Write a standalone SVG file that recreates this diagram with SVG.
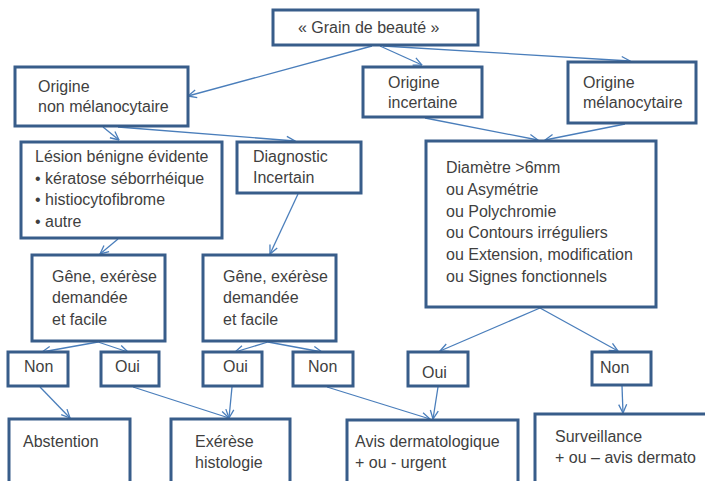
<svg xmlns="http://www.w3.org/2000/svg" width="705" height="481" viewBox="0 0 705 481">
<style>
.box{fill:#ffffff;stroke:#385d8a;stroke-width:3}
.t{font-family:"Liberation Sans",Arial,sans-serif;font-size:16px;fill:#3f3f3f}
.c{fill:none;stroke:#4a7ebb;stroke-width:1.3;marker-end:url(#ah)}
</style>
<defs>
<marker id="ah" viewBox="0 0 10 10" refX="9.5" refY="5" markerWidth="10" markerHeight="10" markerUnits="userSpaceOnUse" orient="auto">
<path d="M1,1 L9.5,5 L1,9" fill="none" stroke="#4a7ebb" stroke-width="1.3"/>
</marker>
</defs>
<rect width="705" height="481" fill="#ffffff"/>
<g id="connectors">
<line class="c" x1="372" y1="46" x2="188" y2="96"/>
<line class="c" x1="380" y1="46" x2="422" y2="65"/>
<line class="c" x1="383" y1="46" x2="630" y2="61"/>
<line class="c" x1="425" y1="118" x2="538" y2="140"/>
<line class="c" x1="625" y1="124" x2="545" y2="140"/>
<line class="c" x1="103" y1="127" x2="119" y2="140"/>
<line class="c" x1="118" y1="127" x2="295" y2="141"/>
<line class="c" x1="118" y1="239" x2="100" y2="254"/>
<line class="c" x1="298" y1="194" x2="270" y2="254"/>
<line class="c" x1="98" y1="342" x2="42" y2="352"/>
<line class="c" x1="98" y1="342" x2="128" y2="352"/>
<line class="c" x1="268" y1="342" x2="235" y2="352"/>
<line class="c" x1="268" y1="342" x2="322" y2="352"/>
<line class="c" x1="540" y1="308" x2="440" y2="351"/>
<line class="c" x1="540" y1="308" x2="618" y2="351"/>
<line class="c" x1="40" y1="387" x2="70" y2="418"/>
<line class="c" x1="133" y1="387" x2="229" y2="418"/>
<line class="c" x1="232" y1="387" x2="229" y2="418"/>
<line class="c" x1="327" y1="387" x2="430" y2="419"/>
<line class="c" x1="438" y1="387" x2="433" y2="419"/>
<line class="c" x1="622" y1="386" x2="623" y2="413"/>
</g>
<g id="n-grain"><rect class="box" x="273" y="10" width="205" height="35"/><text class="t" x="298" y="33">« Grain de beauté »</text></g>
<g id="n-nonmelano"><rect class="box" x="15" y="67" width="173" height="59"/><text class="t" x="38" y="92">Origine</text><text class="t" x="38" y="112">non mélanocytaire</text></g>
<g id="n-incertaine"><rect class="box" x="363" y="67" width="119" height="50"/><text class="t" x="388" y="88">Origine</text><text class="t" x="388" y="108">incertaine</text></g>
<g id="n-melano"><rect class="box" x="568" y="62" width="128" height="61"/><text class="t" x="583" y="88">Origine</text><text class="t" x="583" y="108">mélanocytaire</text></g>
<g id="n-lesion"><rect class="box" x="21" y="142" width="201" height="96"/><text class="t" x="35" y="162">Lésion bénigne évidente</text><text class="t" x="35" y="183.5">•</text><text class="t" x="45" y="183.5">kératose séborrhéique</text><text class="t" x="35" y="205">•</text><text class="t" x="45" y="205">histiocytofibrome</text><text class="t" x="35" y="226.5">•</text><text class="t" x="45" y="226.5">autre</text></g>
<g id="n-diag"><rect class="box" x="237" y="142" width="124" height="51"/><text class="t" x="253" y="162">Diagnostic</text><text class="t" x="253" y="183">Incertain</text></g>
<g id="n-gene1"><rect class="box" x="32" y="255" width="133" height="86"/><text class="t" x="52" y="282">Gêne, exérèse</text><text class="t" x="52" y="303">demandée</text><text class="t" x="52" y="325">et facile</text></g>
<g id="n-gene2"><rect class="box" x="203" y="255" width="133" height="86"/><text class="t" x="223" y="282">Gêne, exérèse</text><text class="t" x="223" y="303">demandée</text><text class="t" x="223" y="325">et facile</text></g>
<g id="n-criteres"><rect class="box" x="426" y="141" width="230" height="166"/><text class="t" x="446" y="173">Diamètre &gt;6mm</text><text class="t" x="446" y="195">ou Asymétrie</text><text class="t" x="446" y="217">ou Polychromie</text><text class="t" x="446" y="238">ou Contours irréguliers</text><text class="t" x="446" y="260">ou Extension, modification</text><text class="t" x="446" y="282">ou Signes fonctionnels</text></g>
<g id="n-non1"><rect class="box" x="8" y="352" width="60" height="34"/><text class="t" x="24" y="372">Non</text></g>
<g id="n-oui1"><rect class="box" x="101" y="352" width="58" height="34"/><text class="t" x="115" y="372">Oui</text></g>
<g id="n-oui2"><rect class="box" x="203" y="352" width="59" height="34"/><text class="t" x="223" y="372">Oui</text></g>
<g id="n-non2"><rect class="box" x="293" y="352" width="60" height="34"/><text class="t" x="308" y="372">Non</text></g>
<g id="n-oui3"><rect class="box" x="408" y="352" width="60" height="34"/><text class="t" x="422" y="378">Oui</text></g>
<g id="n-non3"><rect class="box" x="592" y="352" width="59" height="33"/><text class="t" x="600" y="373">Non</text></g>
<g id="n-abstention"><rect class="box" x="9" y="419" width="121" height="80"/><text class="t" x="23" y="447">Abstention</text></g>
<g id="n-exerese"><rect class="box" x="171" y="419" width="119" height="80"/><text class="t" x="195" y="447">Exérèse</text><text class="t" x="195" y="468">histologie</text></g>
<g id="n-avis"><rect class="box" x="347" y="420" width="171" height="80"/><text class="t" x="355" y="447">Avis dermatologique</text><text class="t" x="355" y="468">+ ou - urgent</text></g>
<g id="n-surveillance"><rect class="box" x="535" y="414" width="180" height="86"/><text class="t" x="555" y="442">Surveillance</text><text class="t" x="555" y="463">+ ou – avis dermato</text></g>
</svg>
